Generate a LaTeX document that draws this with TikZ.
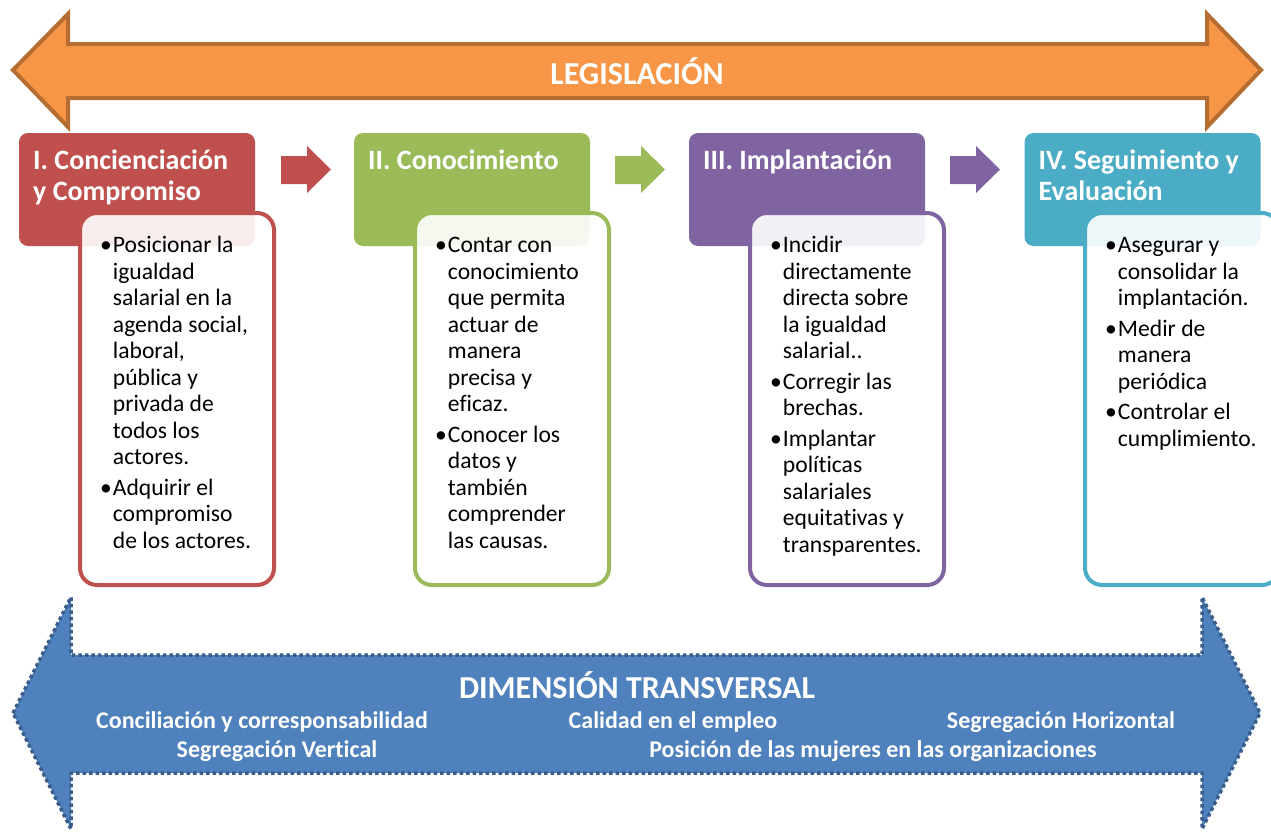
\documentclass[tikz,border=0pt]{standalone}
\usepackage{fontspec}
\setmainfont{Carlito}[Ligatures=NoCommon]
\usepackage{tikz}
\usetikzlibrary{positioning}
\definecolor{cqvqud}{HTML}{C0504D}
\definecolor{zbbbvz}{HTML}{9BBB59}
\definecolor{yqwuas}{HTML}{8064A2}
\definecolor{ubaccw}{HTML}{4BACC6}
\definecolor{fxzwuw}{HTML}{F79646}
\definecolor{bwwdtr}{HTML}{B66D31}
\definecolor{ufyrbd}{HTML}{4F81BD}
\definecolor{tyvdya}{HTML}{385D8A}

\begin{document}
\begin{tikzpicture}[line cap=round,line join=round,x=1pt,y=-1pt,
    hdr/.style={rounded corners=9pt,minimum width=236pt,minimum height=113pt,inner sep=0pt,outer sep=0pt},
    card/.style={draw,line width=4pt,rounded corners=17pt,fill=white,fill opacity=0.9,minimum width=194pt,minimum height=372pt,inner sep=0pt,outer sep=0pt},
    ttl/.style={anchor=north west,inner sep=0pt,text=white,font=\fontsize{28}{31}\selectfont\bfseries},
    lst/.style={anchor=north west,inner sep=0pt,font=\fontsize{23.6}{26.5}\selectfont},
    band/.style={anchor=base,inner sep=0pt,text=white,font=\fontsize{24}{28}\selectfont\bfseries}]
      \useasboundingbox (0,0) rectangle (1271,833);
      \clip (0,0) rectangle (1271,833);
      % legislacion
      \draw[color=bwwdtr,fill=fxzwuw,line width=4pt,line cap=butt,line join=miter] (13,70) -- (68,14) -- (68,44) -- (1207,44) -- (1207,14) -- (1261,70) -- (1207,127) -- (1207,98) -- (68,98) -- (68,127) -- cycle;
      \node[anchor=base,inner sep=0pt,text=white,font=\fontsize{32}{36}\selectfont\bfseries] (legis) at (637,84) {LEGISLACIÓN};
      % flechas entre fases
      \foreach \x/\c in {281/cqvqud,615/zbbbvz,950/yqwuas}
      \fill[shift={(\x,0)},color=\c] (0,156) -- (26,156) -- (26,146) -- (50,169.5) -- (26,193) -- (26,184) -- (0,184) -- cycle;
      % fase I
      \node[hdr,fill=cqvqud] (hdrI) at (137,189.5) {};
      \node[card,draw=cqvqud] (cardI) at (177,399) {};
      \node[ttl] (ttlI) at ([shift={(14,15)}]hdrI.north west) {\begin{tabular}{@{}l@{}}I. Concienciación\\ y Compromiso\end{tabular}};
      \node[lst] (lstI) at ([shift={(20,21)}]cardI.north west) {\begin{tabular}{@{}l@{\hspace{1pt}}l@{}}
        \textbullet & Posicionar la\\ & igualdad\\ & salarial en la\\ & agenda social,\\ & laboral,\\ & pública y\\ & privada de\\ & todos los\\ & actores.\\[4pt]
        \textbullet & Adquirir el\\ & compromiso\\ & de los actores.\end{tabular}};
      % fase II
      \node[hdr,fill=zbbbvz] (hdrII) at (472,189.5) {};
      \node[card,draw=zbbbvz] (cardII) at (512,399) {};
      \node[ttl] (ttlII) at ([shift={(14,15)}]hdrII.north west) {\begin{tabular}{@{}l@{}}II. Conocimiento\end{tabular}};
      \node[lst] (lstII) at ([shift={(20,21)}]cardII.north west) {\begin{tabular}{@{}l@{\hspace{1pt}}l@{}}
        \textbullet & Contar con\\ & conocimiento\\ & que permita\\ & actuar de\\ & manera\\ & precisa y\\ & eficaz.\\[4pt]
        \textbullet & Conocer los\\ & datos y\\ & también\\ & comprender\\ & las causas.\end{tabular}};
      % fase III
      \node[hdr,fill=yqwuas] (hdrIII) at (807,189.5) {};
      \node[card,draw=yqwuas] (cardIII) at (847,399) {};
      \node[ttl] (ttlIII) at ([shift={(14,15)}]hdrIII.north west) {\begin{tabular}{@{}l@{}}III. Implantación\end{tabular}};
      \node[lst] (lstIII) at ([shift={(20,21)}]cardIII.north west) {\begin{tabular}{@{}l@{\hspace{1pt}}l@{}}
        \textbullet & Incidir\\ & directamente\\ & directa sobre\\ & la igualdad\\ & salarial..\\[4pt]
        \textbullet & Corregir las\\ & brechas.\\[4pt]
        \textbullet & Implantar\\ & políticas\\ & salariales\\ & equitativas y\\ & transparentes.\end{tabular}};
      % fase IV
      \node[hdr,fill=ubaccw] (hdrIV) at (1142.5,189.5) {};
      \node[card,draw=ubaccw] (cardIV) at (1182,399) {};
      \node[ttl] (ttlIV) at ([shift={(14,15)}]hdrIV.north west) {\begin{tabular}{@{}l@{}}IV. Seguimiento y\\ Evaluación\end{tabular}};
      \node[lst] (lstIV) at ([shift={(20,21)}]cardIV.north west) {\begin{tabular}{@{}l@{\hspace{1pt}}l@{}}
        \textbullet & Asegurar y\\ & consolidar la\\ & implantación.\\[4pt]
        \textbullet & Medir de\\ & manera\\ & periódica\\[4pt]
        \textbullet & Controlar el\\ & cumplimiento.\end{tabular}};
      % dimension transversal
      \draw[color=tyvdya,fill=ufyrbd,line width=3.5pt,line cap=butt,dash pattern=on 3.5pt off 3pt] (13,713) -- (71,597) -- (71,655) -- (1202,655) -- (1202,597) -- (1260,713) -- (1202,829) -- (1202,773) -- (71,773) -- (71,829) -- cycle;
      \node[band,font=\fontsize{32}{36}\selectfont\bfseries] (dimT) at (637,698) {DIMENSIÓN TRANSVERSAL};
      \node[band] (conc) at (262,728) {Conciliación y corresponsabilidad};
      \node[band] (cal) at (673,728) {Calidad en el empleo};
      \node[band] (segH) at (1061,728) {Segregación Horizontal};
      \node[band] (segV) at (277,757) {Segregación Vertical};
      \node[band] (pos) at (873,757) {Posición de las mujeres en las organizaciones};
\end{tikzpicture}
\end{document}
